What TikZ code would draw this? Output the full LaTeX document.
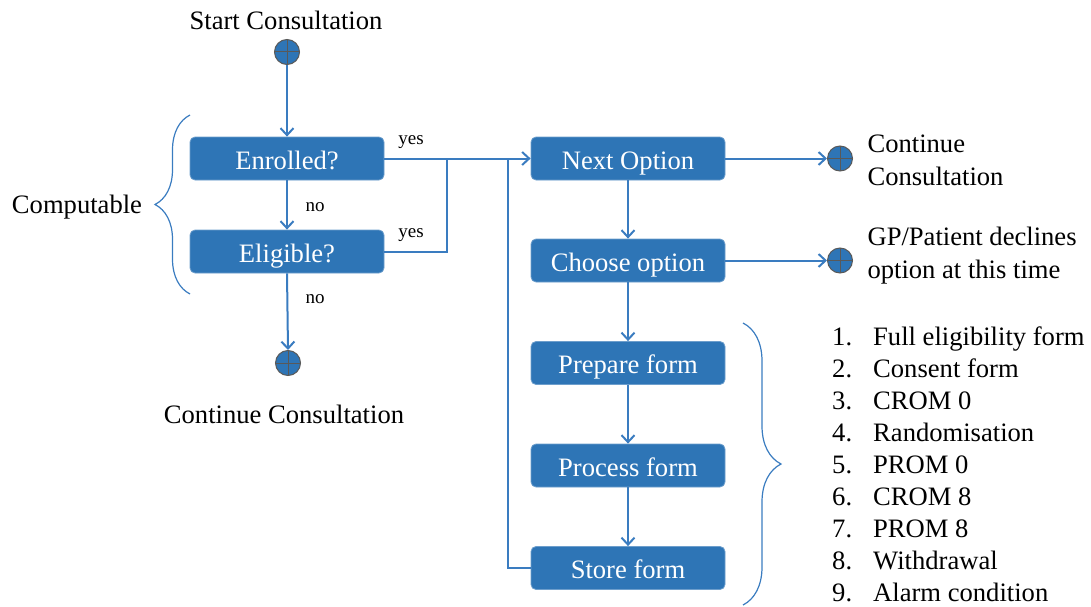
\documentclass[tikz,border=0pt]{standalone}
\usepackage{fontspec}
\setmainfont{Liberation Serif}
\usetikzlibrary{arrows.meta,shapes,positioning,decorations.pathreplacing}
\definecolor{flowblue}{RGB}{46,117,182}
\definecolor{lineblue}{RGB}{58,124,192}

\begin{document}
\begin{tikzpicture}[
        x=1pt, y=-1pt,
        every node/.style={font=\rmfamily\fontsize{26.6}{33}\selectfont},
        box/.style={draw=flowblue!70!white, line width=0.8pt, rounded corners=5pt, fill=flowblue, text=white, minimum width=194pt, minimum height=43pt, inner sep=0pt, text height=25pt, text depth=4pt},
        terminal/.style={circle, draw=black!65, line width=1pt, fill=flowblue, minimum size=25pt, inner sep=0pt,
            path picture={\draw[black!65, line width=1pt] (path picture bounding box.north) -- (path picture bounding box.south) (path picture bounding box.west) -- (path picture bounding box.east);}},
        flow/.style={draw=lineblue, line width=2pt, -{Straight Barb[length=7pt,width=13pt]}},
        link/.style={draw=lineblue, line width=2pt},
        small/.style={font=\rmfamily\fontsize{19}{23}\selectfont},
        curly/.style={draw=lineblue, line width=1.2pt, decorate, decoration={brace, amplitude=#1}}
    ]
    \useasboundingbox (0,0) rectangle (1091,607);

    % Nodes
    \node[terminal] (start) at (287,52) {};
    \node (startlabel) at (286,20) {Start Consultation};
    \node[box] (enrolled) at (287,158.5) {Enrolled?};
    \node[box] (eligible) at (287,251.5) {Eligible?};
    \node[terminal] (leave) at (288,363) {};
    \node (leavelabel) at (284,414) {Continue Consultation};
    \node (computable) at (77,207) {Computable};

    \node[box] (next) at (628,158.5) {Next Option};
    \node[box] (choose) at (628,260.5) {Choose option};
    \node[box] (prepare) at (628,363) {Prepare form};
    \node[box] (process) at (628,465.5) {Process form};
    \node[box] (store) at (628,568) {Store form};

    \node[terminal] (cont) at (840,158.5) {};
    \node[terminal] (decline) at (840,260.5) {};
    \node[anchor=west, align=left] (contlabel) at (864,160) {Continue\\Consultation};
    \node[anchor=west, align=left] (declinelabel) at (864,256) {GP/Patient declines\\option at this time};

    \node[anchor=west, inner sep=0pt, font=\rmfamily\fontsize{26.6}{32}\selectfont] (forms) at (832,467) {%
        \begin{tabular}{@{}p{41pt}@{}l@{}}
        1. & Full eligibility form\\
        2. & Consent form\\
        3. & CROM 0\\
        4. & Randomisation\\
        5. & PROM 0\\
        6. & CROM 8\\
        7. & PROM 8\\
        8. & Withdrawal\\
        9. & Alarm condition
        \end{tabular}};

    \node[small] (yesA) at (411,142) {yes};
    \node[small] (yesB) at (411,235) {yes};
    \node[small] (noA) at (315,207) {no};
    \node[small] (noB) at (315,299) {no};

    \coordinate (join) at (447,158.5);
    \coordinate (loop) at (508,158.5);

    % Connectors
    \draw[flow] (start) -- (enrolled);
    \draw[flow] (enrolled) -- (eligible);
    \draw[flow] (eligible.south) -- (leave.north);
    \draw[flow] (enrolled) -- (next);
    \draw[link] (eligible.east) -| (join);
    \draw[link] (store.west) -| (loop);
    \draw[flow] (next) -- (cont);
    \draw[flow] (choose) -- (decline);
    \draw[flow] (next) -- (choose);
    \draw[flow] (choose) -- (prepare);
    \draw[flow] (prepare) -- (process);
    \draw[flow] (process) -- (store);

    % Braces
    \draw[curly=35pt] (190,294) -- (190,115);
    \draw[curly=38pt] (743,323) -- (743,605);
\end{tikzpicture}
\end{document}
